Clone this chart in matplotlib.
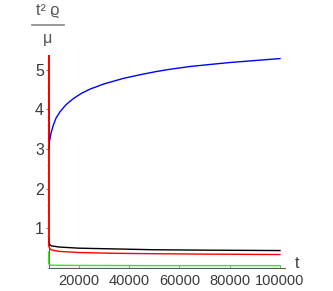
import matplotlib
matplotlib.use('Agg')
import matplotlib.pyplot as plt
from matplotlib.lines import Line2D
from matplotlib.ticker import MultipleLocator

# curves (t, value)
blue_t = [8000, 8100, 8400, 9000, 9900, 11000, 12570, 15000, 17860, 21000, 24500,
          30000, 37730, 45000, 51000, 56300, 64240, 72000, 80000, 90000, 100000]
blue_v = [5.6, 3.0, 3.2, 3.4, 3.6, 3.78, 3.94, 4.12, 4.27, 4.40, 4.51,
          4.64, 4.78, 4.88, 4.955, 5.01, 5.08, 5.13, 5.18, 5.23, 5.28]

black_t = [8000, 8100, 8400, 9000, 12000, 20000, 35000, 50000, 70000, 100000]
black_v = [0.75, 0.66, 0.6, 0.56, 0.53, 0.5, 0.48, 0.46, 0.45, 0.44]

red_t = [8000, 8100, 8400, 9000, 12000, 20000, 35000, 50000, 70000, 100000]
red_v = [6.0, 0.56, 0.5, 0.46, 0.42, 0.39, 0.37, 0.36, 0.35, 0.34]

green_t = [8000, 8100, 9000, 20000, 50000, 100000]
green_v = [0.4, 0.1, 0.07, 0.065, 0.06, 0.06]

yellow_t = [8000, 100000]
yellow_v = [0.012, 0.012]

xticks = [20000, 40000, 60000, 80000, 100000]
yticks = [1, 2, 3, 4, 5]

txt = '#3a3a3a'
fs = 10.5
plt.rcParams['font.family'] = ['Liberation Sans', 'DejaVu Sans']

fig = plt.figure(figsize=(3.33, 2.91), dpi=100)
ax = fig.add_axes([47.5/333, 23/291, 237.5/333, 213/291])

ax.plot(yellow_t, yellow_v, color='#c8c020', lw=1.0, zorder=3)
ax.plot(green_t, green_v, color='#40e020', lw=1.0, zorder=3)
ax.plot(black_t, black_v, color='black', lw=1.0, zorder=3)
ax.plot(blue_t, blue_v, color='blue', lw=1.0, zorder=3)
ax.plot(red_t, red_v, color='red', lw=1.0, zorder=3)

ax.set_xlim(7600, 102000)
ax.set_ylim(0, 5.37)

for s in ['top', 'right']:
    ax.spines[s].set_visible(False)
for s in ['left', 'bottom']:
    ax.spines[s].set_color('#555555')
    ax.spines[s].set_linewidth(0.7)
ax.spines['left'].set_position(('data', 8000))
ax.spines['bottom'].set_bounds(8000, 102000)

ax.set_xticks(xticks)
ax.set_xticklabels([str(v) for v in xticks])
ax.set_yticks(yticks)
ax.set_yticklabels([str(v) for v in yticks])
ax.yaxis.set_minor_locator(MultipleLocator(0.2))
ax.tick_params(axis='y', which='major', direction='out', length=2.5, width=0.6,
               color='#666666', pad=0.8, labelsize=fs + 1, labelcolor=txt)
ax.tick_params(axis='y', which='minor', direction='out', length=1.2, width=0.5,
               color='#999999')
ax.tick_params(axis='x', which='major', direction='in', length=2, width=0.6,
               color='#888888', pad=4, labelsize=fs, labelcolor=txt)

# axis labels
fig.text(297/333, 1 - 263/291, 't', ha='center', va='center', fontsize=fs + 1,
         color=txt)
fig.text(48/333, 1 - 11/291, 't\u00b2 \u03f1', ha='center', va='center',
         fontsize=fs + 1, color='#555555')
fig.add_artist(Line2D([32/333, 64/333], [1 - 25/291, 1 - 25/291],
                      color='#888888', lw=1.2))
fig.text(48/333, 1 - 39/291, '\u03bc', ha='center', va='center',
         fontsize=fs + 1, color='#555555')

fig.savefig('out.png', dpi=100)
